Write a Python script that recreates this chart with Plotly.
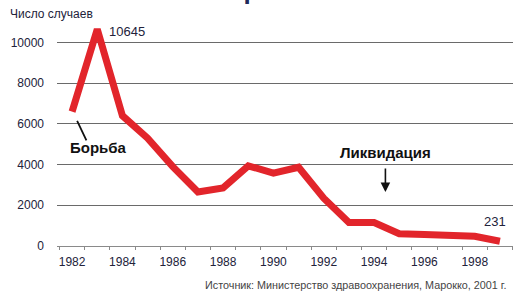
import plotly.graph_objects as go

years = list(range(1982, 2000))
cases = [6600, 10645, 6400, 5300, 3900, 2650, 2850, 3940, 3580, 3870,
         2350, 1150, 1150, 600, 560, 560, 480, 231]
x_tick_vals = [1982, 1984, 1986, 1988, 1990, 1992, 1994, 1996, 1998]
y_tick_vals = [0, 2000, 4000, 6000, 8000, 10000]

RED = "#e2252b"
TXT = "#22223a"
FONT = "Liberation Sans, Arial, sans-serif"

fig = go.Figure()
fig.add_trace(go.Scatter(x=years, y=cases, mode="lines",
                         line=dict(color=RED, width=7), hoverinfo="skip"))

fig.update_layout(
    width=515, height=293,
    margin=dict(l=57, r=2, t=18, b=47),
    paper_bgcolor="white", plot_bgcolor="white",
    showlegend=False,
    font=dict(family=FONT, color=TXT),
    xaxis=dict(range=[1981.4, 1999.52], tickvals=x_tick_vals,
               ticktext=[str(v) for v in x_tick_vals],
               showgrid=False, zeroline=False, showline=True,
               linecolor="#8a8a8a", linewidth=1.2, ticks="",
               tickfont=dict(size=12, color=TXT, family=FONT),
               minor=dict(tick0=1981.5, dtick=1, ticks="outside",
                          ticklen=3, tickcolor="#8a8a8a", tickwidth=1),
               ticklabelstandoff=4),
    yaxis=dict(range=[0, 11200], tickvals=y_tick_vals,
               ticktext=[str(v) for v in y_tick_vals],
               showgrid=True, gridcolor="#6a6a6a", gridwidth=1.3,
               zeroline=False, showline=False, ticks="",
               tickfont=dict(size=12, color=TXT, family=FONT),
               ticklabelstandoff=12),
)

ann = []
# Title (mostly cut off at top, as in the reference)
ann.append(dict(text="<b>Марокко</b>", xref="paper", yref="paper",
                x=0.45, y=1.0, yshift=11, xanchor="center", yanchor="bottom",
                showarrow=False, font=dict(size=26, color="#1e2a5c", family=FONT)))
ann.append(dict(text="Число случаев", xref="paper", yref="paper",
                x=-0.108, y=1.0, yshift=-5, xanchor="left", yanchor="bottom",
                showarrow=False, font=dict(size=12, color=TXT, family=FONT)))
ann.append(dict(text=str(cases[1]), x=years[1], y=cases[1], xref="x", yref="y",
                xanchor="left", yanchor="middle", xshift=10, yshift=-2,
                showarrow=False, font=dict(size=13, color=TXT, family=FONT)))
ann.append(dict(text=str(cases[-1]), x=years[-1], y=cases[-1], xref="x", yref="y",
                xanchor="right", yanchor="bottom", xshift=8, yshift=10,
                showarrow=False, font=dict(size=13, color=TXT, family=FONT)))
# Борьба
ann.append(dict(text="<b>Борьба</b>", x=1983.03, y=4840, xref="x", yref="y",
                xanchor="center", yanchor="middle", showarrow=False,
                font=dict(size=15, color="#111111", family=FONT)))
ann.append(dict(text="", x=1982.2, y=6150, xref="x", yref="y",
                ax=10, ay=21, showarrow=True, arrowhead=0, arrowwidth=1.8,
                arrowcolor="#111111"))
# Ликвидация
ann.append(dict(text="<b>Ликвидация</b>", x=1994.45, y=4600, xref="x", yref="y",
                xanchor="center", yanchor="middle", showarrow=False,
                font=dict(size=15, color="#111111", family=FONT)))
ann.append(dict(text="", x=1994.45, y=2650, xref="x", yref="y",
                ax=0, ay=-25, showarrow=True, arrowhead=2, arrowsize=1.2,
                arrowwidth=1.6, arrowcolor="#111111"))
# Source
ann.append(dict(text="Источник: Министерство здравоохранения, Марокко, 2001 г.",
                xref="paper", yref="paper", x=0.99, y=0, yshift=-39,
                xanchor="right", yanchor="middle", showarrow=False,
                font=dict(size=10.8, color="#444444", family=FONT)))
fig.update_layout(annotations=ann)

fig.write_html("out.html", config={"displayModeBar": False},
               post_script="document.body.style.margin='0';document.body.style.overflow='hidden';")
